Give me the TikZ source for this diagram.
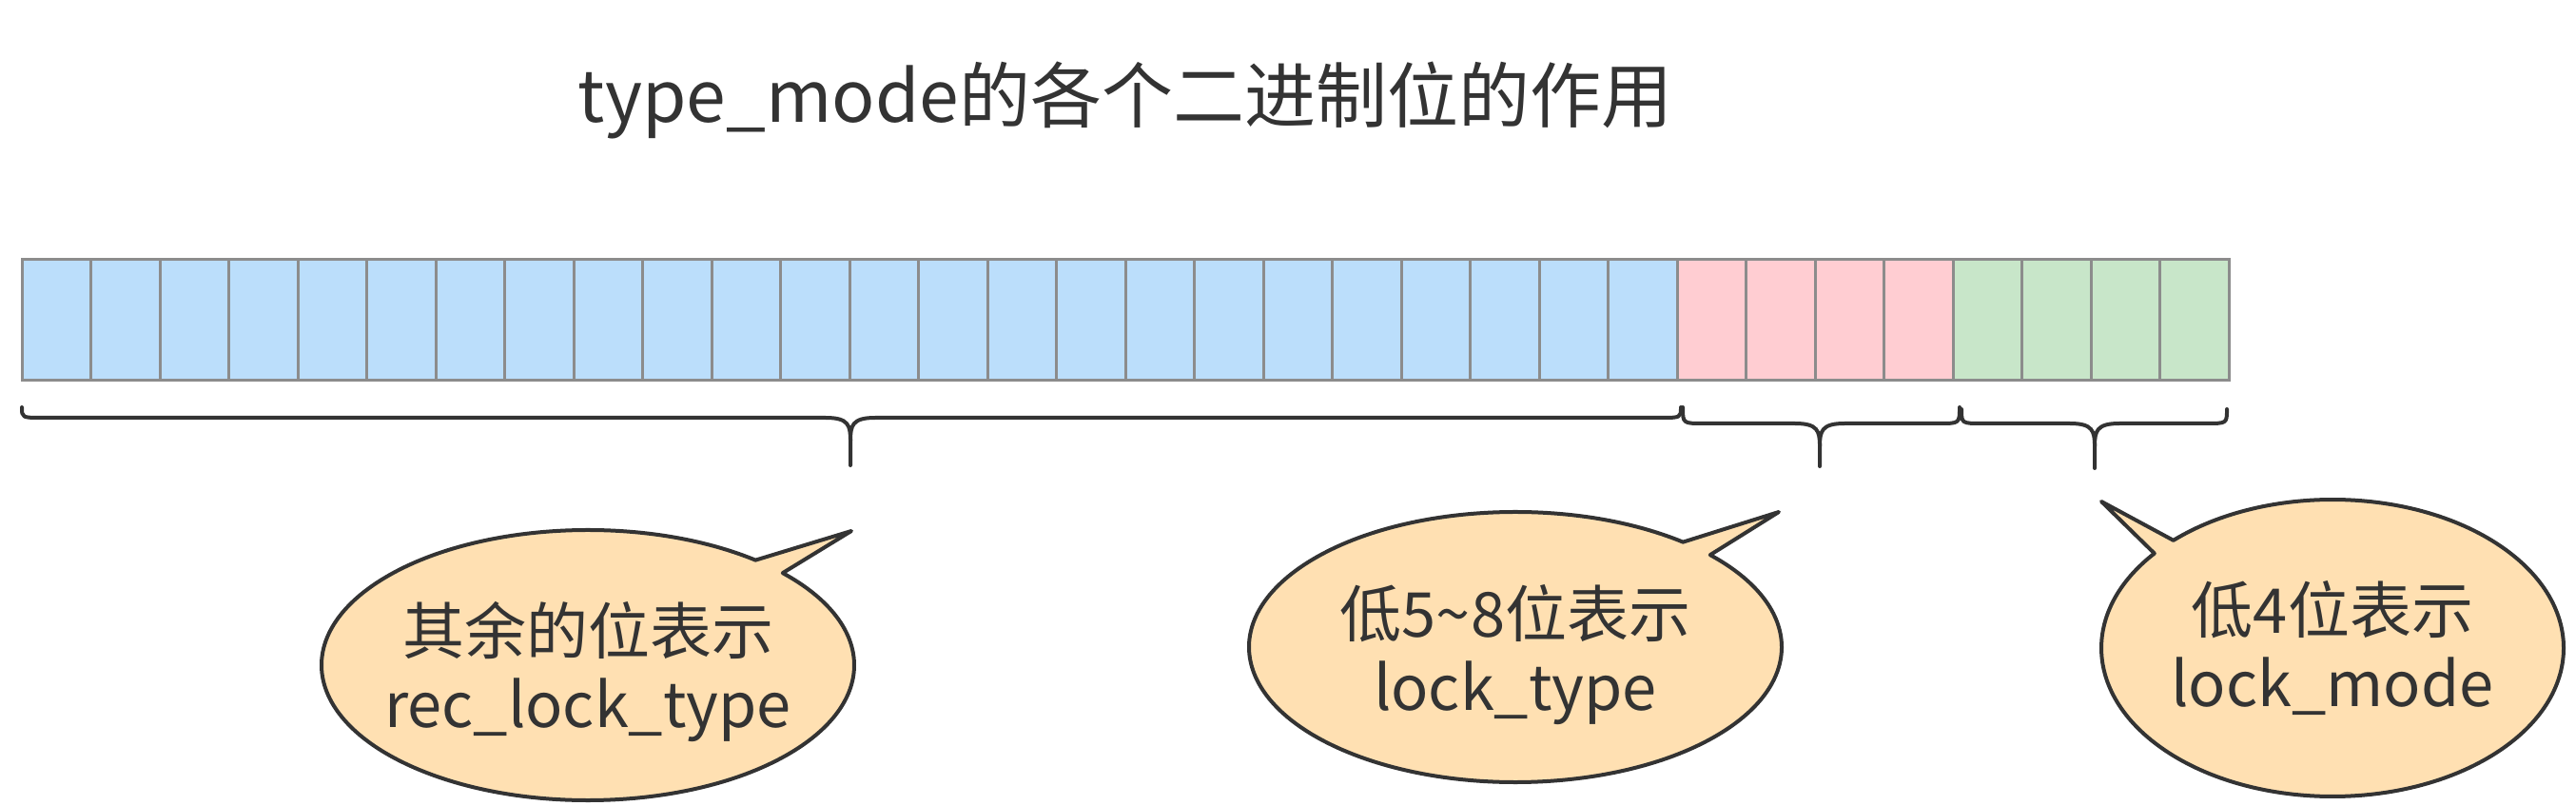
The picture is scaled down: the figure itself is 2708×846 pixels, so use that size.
\documentclass[tikz,border=0pt]{standalone}
\usepackage{fontspec}
\setmainfont{Noto Sans CJK SC}
\definecolor{cblue}{HTML}{BBDEFB}
\definecolor{cpink}{HTML}{FFCDD2}
\definecolor{cgreen}{HTML}{C8E6C9}
\definecolor{cpeach}{HTML}{FFE0B2}
\definecolor{ink}{HTML}{333333}
\definecolor{cellline}{HTML}{8C8C8C}
\newcommand\bitbrace[6]{% x1 xc x2 ytop ymid ybot
  \draw[bracestyle] (#1,#4) .. controls (#1,#5) .. (#1+22,#5) -- (#2-26,#5)
     .. controls (#2-2,#5) and (#2,#5-8) .. (#2,#5-24) -- (#2,#6);
  \draw[bracestyle] (#3,#4) .. controls (#3,#5) .. (#3-22,#5) -- (#2+26,#5)
     .. controls (#2+2,#5) and (#2,#5-8) .. (#2,#5-24);
}
\begin{document}
\begin{tikzpicture}[x=1pt,y=1pt,
  cell/.style={draw=cellline,line width=3pt,minimum width=72.5pt,minimum height=127pt,inner sep=0pt,outer sep=0pt},
  bracestyle/.style={draw=ink,line width=4pt,line cap=round,line join=round},
  bubble/.style={draw=ink,fill=cpeach,line width=4pt,line join=round},
  bubbletext/.style={text=ink,align=center,font=\fontsize{65}{77}\selectfont},
  titletext/.style={text=ink,font=\fontsize{75}{90}\selectfont}]
\useasboundingbox[fill=white] (0,0) rectangle (2708,846);
\node[titletext] (title) at (1183,741) {type\_mode的各个二进制位的作用};
\foreach \i in {1,...,32}{
  \ifnum\i<25 \def\cc{cblue}\else\ifnum\i<29 \def\cc{cpink}\else\def\cc{cgreen}\fi\fi
  \pgfmathsetmacro\xx{23+72.5*(\i-0.5)}
  \node[cell,fill=\cc] (c\i) at (\xx,509.5) {};
}
\bitbrace{23}{894}{1767}{418}{407}{357}
\bitbrace{1769}{1913}{2060}{418}{401}{356}
\bitbrace{2062}{2202}{2341}{416}{401}{354}
% callout 1
\coordinate (e1) at (618,147);
\draw[bubble] (895,288) -- ([shift={(51:280pt and 142pt)}]e1)
  arc[start angle=51,end angle=403,x radius=280pt,y radius=142pt] -- cycle;
\node[bubbletext] (t1) at (618,140) {其余的位表示\\rec\_lock\_type};
% callout 2
\coordinate (e2) at (1593,166);
\draw[bubble] (1870,308) -- ([shift={(51:280pt and 142pt)}]e2)
  arc[start angle=51,end angle=403,x radius=280pt,y radius=142pt] -- cycle;
\node[bubbletext] (t2) at (1593,158) {低5\textasciitilde 8位表示\\lock\_type};
% callout 3
\coordinate (e3) at (2452,165);
\draw[bubble] (2209,319) -- ([shift={(133.5:243pt and 156pt)}]e3)
  arc[start angle=133.5,end angle=-219.6,x radius=243pt,y radius=156pt] -- cycle;
\node[bubbletext] (t3) at (2452,165) {低4位表示\\lock\_mode};
\end{tikzpicture}
\end{document}
